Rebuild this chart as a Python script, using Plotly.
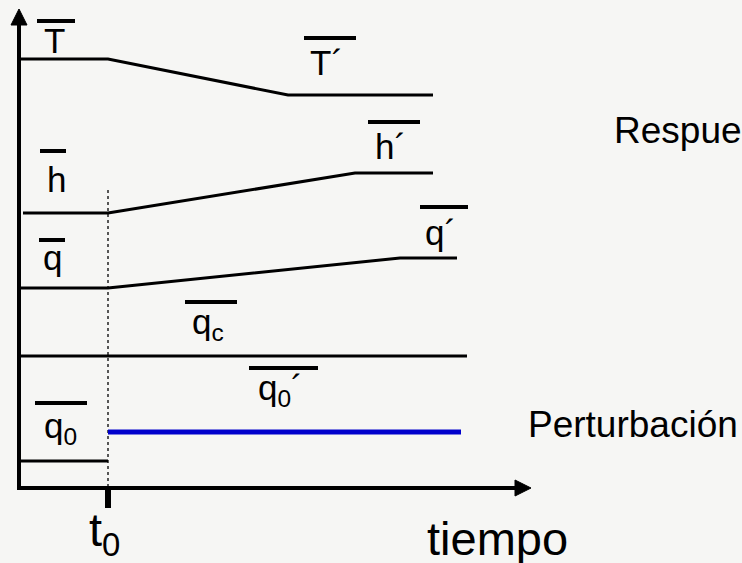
import plotly.graph_objects as go

# ---- data (diagram coordinates: x = time, y = level, screen-like units) ----
t0 = 108
T_t = [20, t0, 288, 433]
T_y = [59, 59, 95, 95]
h_t = [23, t0, 355, 433]
h_y = [213, 213, 173, 173]
q_t = [20, t0, 400, 457]
q_y = [288, 288, 258, 258]
qc_t = [20, 467]
qc_y = [356, 356]
q0_t = [20, t0]
q0_y = [461, 461]
q0p_t = [t0, 461]
q0p_y = [432, 432]

# labels: text, x center, y center, overbar x0, x1, overbar y
label_text = ["T", "T´", "h", "h´", "q", "q´", "q<sub>c</sub>", "q<sub>0</sub>´", "q<sub>0</sub>"]
label_x = [54, 326, 56, 390, 52, 440, 208, 280, 60]
label_y = [40, 62, 179, 146, 257, 232, 324, 390, 428]
bar_x0 = [37, 304, 40, 368, 39, 420, 185, 249, 35]
bar_x1 = [75, 356, 66, 420, 65, 468, 237, 318, 87]
bar_y = [21, 38, 151, 122, 240, 207, 302, 368, 403]

axis_origin = (19, 488)
x_axis_end = 531
y_axis_end = 9

BG = "#f6f6f4"
FONT = "Liberation Sans, Arial, sans-serif"

fig = go.Figure()

def line(x, y, color="black", width=3, dash=None):
    fig.add_trace(go.Scatter(x=x, y=y, mode="lines", hoverinfo="skip",
                             line=dict(color=color, width=width, dash=dash),
                             showlegend=False))

# dotted vertical at t0
line([t0, t0], [190, axis_origin[1]], color="#222222", width=1.5, dash="dot")

# response curves
line(T_t, T_y)
line(h_t, h_y)
line(q_t, q_y)
line(qc_t, qc_y)
line(q0_t, q0_y)
line(q0p_t, q0p_y, color="#0000cc", width=5)

# overbars
for x0, x1, yb in zip(bar_x0, bar_x1, bar_y):
    line([x0, x1], [yb, yb], width=4)

# axes
ox, oy = axis_origin
line([ox, x_axis_end - 14], [oy, oy], width=4)
line([ox, ox], [oy + 2, y_axis_end + 14], width=4)
# arrowheads
fig.add_trace(go.Scatter(x=[x_axis_end, x_axis_end - 16, x_axis_end - 16, x_axis_end],
                         y=[oy, oy - 8, oy + 8, oy], mode="lines", fill="toself",
                         fillcolor="black", line=dict(color="black", width=1),
                         hoverinfo="skip", showlegend=False))
fig.add_trace(go.Scatter(x=[ox, ox - 8, ox + 8, ox],
                         y=[y_axis_end, y_axis_end + 16, y_axis_end + 16, y_axis_end],
                         mode="lines", fill="toself", fillcolor="black",
                         line=dict(color="black", width=1),
                         hoverinfo="skip", showlegend=False))
# t0 tick
line([t0, t0], [oy, 508], width=6)

annotations = []
for txt, x, y in zip(label_text, label_x, label_y):
    annotations.append(dict(x=x, y=y, text=txt, showarrow=False, xanchor="center",
                            yanchor="middle", font=dict(family=FONT, size=35, color="black")))

annotations += [
    dict(x=104, y=533, text="t<sub>0</sub>", showarrow=False, xanchor="center", yanchor="middle",
         font=dict(family=FONT, size=47, color="black")),
    dict(x=497, y=538, text="tiempo", showarrow=False, xanchor="center", yanchor="middle",
         font=dict(family=FONT, size=47, color="black")),
    dict(x=526, y=424, text="Perturbación", showarrow=False, xanchor="left", yanchor="middle",
         font=dict(family=FONT, size=37, color="black")),
    dict(x=612, y=130, text="Respuesta", showarrow=False, xanchor="left", yanchor="middle",
         font=dict(family=FONT, size=37, color="black")),
]

fig.update_layout(
    width=742, height=563,
    margin=dict(l=0, r=0, t=0, b=0),
    paper_bgcolor=BG, plot_bgcolor=BG,
    xaxis=dict(range=[0, 742], visible=False, fixedrange=True),
    yaxis=dict(range=[563, 0], visible=False, fixedrange=True),
    annotations=annotations,
    showlegend=False,
)

fig.write_html("out.html", config={"staticPlot": True},
               post_script="document.body.style.margin='0';document.body.style.overflow='hidden';")
